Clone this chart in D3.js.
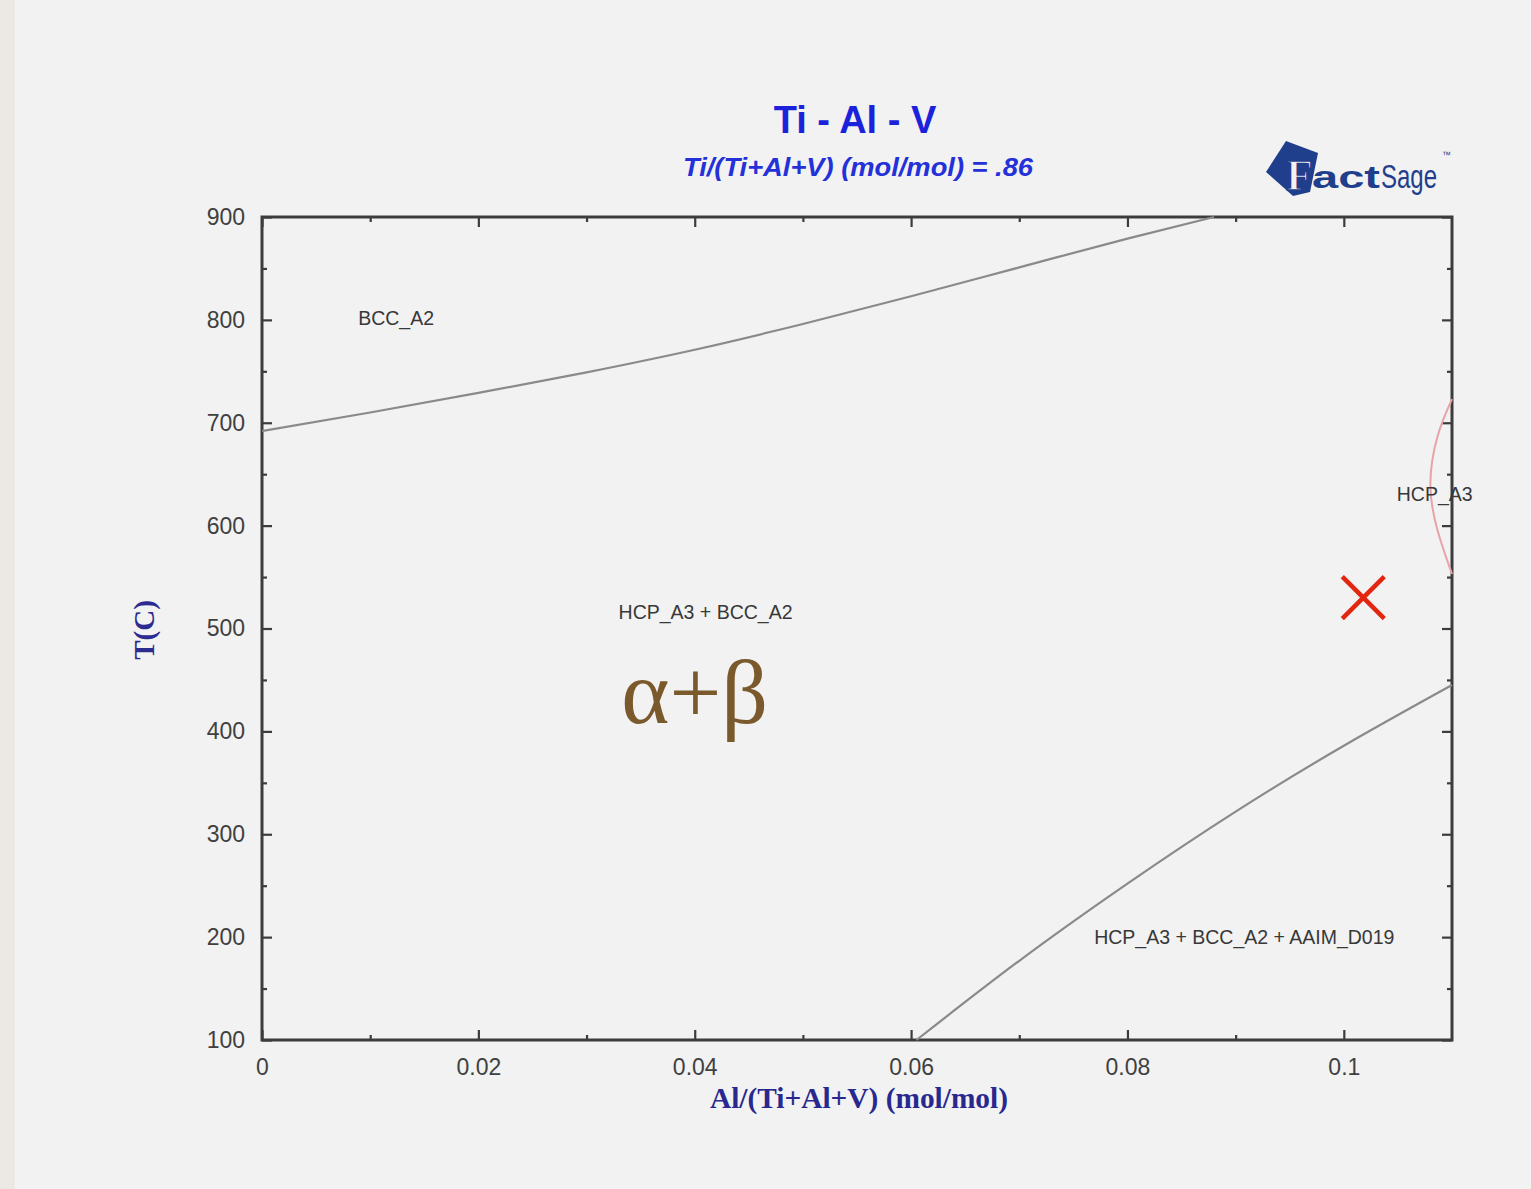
<!DOCTYPE html>
<html>
<head>
<meta charset="utf-8">
<script src="https://cdn.jsdelivr.net/npm/d3@7"></script>
<style>
  html, body { margin: 0; padding: 0; background: #f2f2f2; }
  svg { display: block; }
</style>
</head>
<body>
<svg id="chart" width="1531" height="1189"></svg>
<script>
// ---------- DATA ----------
const xMajorTicks = [0, 0.02, 0.04, 0.06, 0.08, 0.1];
const xTickLabels = ["0", "0.02", "0.04", "0.06", "0.08", "0.1"];
const xMinorTicks = [0.01, 0.03, 0.05, 0.07, 0.09];
const yMajorTicks = [100, 200, 300, 400, 500, 600, 700, 800, 900];
const yMinorTicks = [150, 250, 350, 450, 550, 650, 750, 850];

// BCC_A2 / HCP_A3+BCC_A2 boundary  [Al fraction, T(C)]
const bccBoundaryX = [0, 0.01, 0.02, 0.03, 0.04, 0.05, 0.06, 0.07, 0.08, 0.0880];
const bccBoundaryT = [692, 710, 729, 749, 771, 796, 823, 851, 879, 900];

// HCP_A3+BCC_A2 / +AAIM_D019 boundary
const d019BoundaryX = [0.0605, 0.07, 0.08, 0.09, 0.10, 0.11];
const d019BoundaryT = [100, 177, 252, 322, 386, 445];

// HCP_A3 single-phase boundary (red)
const hcpBoundaryX = [0.1100, 0.1087, 0.1080, 0.1087, 0.1100];
const hcpBoundaryT = [723, 688, 640, 594, 553];

// marked alloy point
const markerX = [0.1018];
const markerT = [530];

// phase region labels
const regionNames = ["BCC_A2", "HCP_A3 + BCC_A2", "HCP_A3", "HCP_A3 + BCC_A2 + AAIM_D019"];
const regionX = [0.0124, 0.0410, 0.1084, 0.0908];
const regionT = [802, 516, 631, 200];

const titleText = "Ti - Al - V";
const subtitleText = "Ti/(Ti+Al+V) (mol/mol)  = .86";
const xLabelText = "Al/(Ti+Al+V) (mol/mol)";
const yLabelText = "T(C)";
const annotationText = "α+β";
const annotationX = 0.0400;
const annotationT = 435;

// ---------- DRAW ----------
const svg = d3.select("#chart");
const W = 1531, H = 1189;
const L = 262, R = 1452, T = 217, B = 1040;

svg.append("rect").attr("width", W).attr("height", H).attr("fill", "#f2f2f2");
svg.append("rect").attr("x", 0).attr("y", 0).attr("width", 14).attr("height", H).attr("fill", "#ece9e5");
svg.append("line").attr("x1", 14).attr("x2", 14).attr("y1", 0).attr("y2", H).attr("stroke", "#e4e4e4").attr("stroke-width", 1);

const x = d3.scaleLinear().domain([0, 0.11]).range([L, R]);
const y = d3.scaleLinear().domain([100, 900]).range([B, T]);

const axisColor = "#3c3c3c";
const tickFont = "'Liberation Sans', Arial, sans-serif";

function styleAxis(g) {
  g.select(".domain").remove();
  g.selectAll(".tick line").attr("stroke", axisColor).attr("stroke-width", 2.2);
  g.selectAll(".tick text").attr("fill", "#404040").attr("font-family", tickFont).attr("font-size", 23);
}

// bottom
svg.append("g").attr("transform", `translate(0,${B})`)
  .call(d3.axisBottom(x).tickValues(xMajorTicks).tickSizeInner(-10).tickSizeOuter(0).tickPadding(19)
    .tickFormat((d, i) => xTickLabels[i]))
  .call(styleAxis);
svg.append("g").attr("transform", `translate(0,${B})`)
  .call(d3.axisBottom(x).tickValues(xMinorTicks).tickSizeInner(-5).tickSizeOuter(0).tickFormat(""))
  .call(styleAxis);
// top
svg.append("g").attr("transform", `translate(0,${T})`)
  .call(d3.axisTop(x).tickValues(xMajorTicks).tickSizeInner(-10).tickSizeOuter(0).tickFormat(""))
  .call(styleAxis);
svg.append("g").attr("transform", `translate(0,${T})`)
  .call(d3.axisTop(x).tickValues(xMinorTicks).tickSizeInner(-5).tickSizeOuter(0).tickFormat(""))
  .call(styleAxis);
// left
svg.append("g").attr("transform", `translate(${L},0)`)
  .call(d3.axisLeft(y).tickValues(yMajorTicks).tickSizeInner(-10).tickSizeOuter(0).tickPadding(17))
  .call(styleAxis);
svg.append("g").attr("transform", `translate(${L},0)`)
  .call(d3.axisLeft(y).tickValues(yMinorTicks).tickSizeInner(-5).tickSizeOuter(0).tickFormat(""))
  .call(styleAxis);
// right
svg.append("g").attr("transform", `translate(${R},0)`)
  .call(d3.axisRight(y).tickValues(yMajorTicks).tickSizeInner(-10).tickSizeOuter(0).tickFormat(""))
  .call(styleAxis);
svg.append("g").attr("transform", `translate(${R},0)`)
  .call(d3.axisRight(y).tickValues(yMinorTicks).tickSizeInner(-5).tickSizeOuter(0).tickFormat(""))
  .call(styleAxis);

// frame
svg.append("rect").attr("x", L).attr("y", T).attr("width", R - L).attr("height", B - T)
  .attr("fill", "none").attr("stroke", axisColor).attr("stroke-width", 3);

// boundary curves
const toPts = (xs, ts) => xs.map((v, i) => [v, ts[i]]);
const lineMono = d3.line().x(d => x(d[0])).y(d => y(d[1])).curve(d3.curveMonotoneX);
const lineSmooth = d3.line().x(d => x(d[0])).y(d => y(d[1])).curve(d3.curveNatural);

svg.append("path").attr("d", lineMono(toPts(bccBoundaryX, bccBoundaryT)))
  .attr("fill", "none").attr("stroke", "#8a8a8a").attr("stroke-width", 2.2);
svg.append("path").attr("d", lineSmooth(toPts(d019BoundaryX, d019BoundaryT)))
  .attr("fill", "none").attr("stroke", "#8a8a8a").attr("stroke-width", 2.2);
svg.append("path").attr("d", lineSmooth(toPts(hcpBoundaryX, hcpBoundaryT)))
  .attr("fill", "none").attr("stroke", "#e7a3a6").attr("stroke-width", 2);

// region labels
svg.append("g").selectAll("text").data(regionNames).join("text")
  .attr("x", (d, i) => x(regionX[i])).attr("y", (d, i) => y(regionT[i]))
  .attr("dy", "0.35em").attr("text-anchor", "middle")
  .attr("font-family", tickFont).attr("font-size", 19.5).attr("fill", "#383838")
  .text(d => d);

// alpha+beta annotation
svg.append("text").attr("x", x(annotationX)).attr("y", y(annotationT))
  .attr("dy", "0.3em").attr("text-anchor", "middle")
  .attr("font-family", "'Liberation Serif', 'Times New Roman', serif").attr("font-size", 92)
  .attr("fill", "#7a5a2c").text(annotationText);

// red X marker
const mg = svg.append("g");
markerX.forEach((mx, i) => {
  const cx = x(mx), cy = y(markerT[i]), s = 21;
  mg.append("line").attr("x1", cx - s).attr("y1", cy - s).attr("x2", cx + s).attr("y2", cy + s)
    .attr("stroke", "#e2260f").attr("stroke-width", 4.5);
  mg.append("line").attr("x1", cx - s).attr("y1", cy + s).attr("x2", cx + s).attr("y2", cy - s)
    .attr("stroke", "#e2260f").attr("stroke-width", 4.5);
});

// titles
svg.append("text").attr("x", 855).attr("y", 133).attr("text-anchor", "middle")
  .attr("font-family", "'Liberation Sans', Arial, sans-serif").attr("font-weight", "bold")
  .attr("font-size", 38).attr("fill", "#1c22dc").text(titleText);
svg.append("text").attr("x", 858).attr("y", 176).attr("text-anchor", "middle")
  .attr("font-family", "'Liberation Sans', Arial, sans-serif").attr("font-weight", "bold")
  .attr("font-style", "italic").attr("font-size", 25).attr("fill", "#2430d8")
  .attr("textLength", 350).attr("lengthAdjust", "spacingAndGlyphs").text(subtitleText);

// axis labels
svg.append("text").attr("x", 859).attr("y", 1108).attr("text-anchor", "middle")
  .attr("font-family", "'Liberation Serif', 'Times New Roman', serif").attr("font-weight", "bold")
  .attr("font-size", 29).attr("fill", "#28288e")
  .attr("textLength", 298).attr("lengthAdjust", "spacingAndGlyphs").text(xLabelText);
svg.append("text").attr("transform", "translate(154,630) rotate(-90)").attr("text-anchor", "middle")
  .attr("font-family", "'Liberation Serif', 'Times New Roman', serif").attr("font-weight", "bold")
  .attr("font-size", 29).attr("fill", "#2b2b90").text(yLabelText);

// FactSage logo
const logo = svg.append("g");
logo.append("path")
  .attr("d", "M1266,172 L1286,141 L1318,153 L1310,192 L1293,196 Z")
  .attr("fill", "#1f3f8c");
logo.append("text").attr("x", 1286).attr("y", 190)
  .attr("font-family", "'Liberation Serif', serif").attr("font-weight", "bold").attr("font-size", 44)
  .attr("fill", "#f2f2f2").attr("stroke", "#1f3f8c").attr("stroke-width", 1.5).text("F");
logo.append("text").attr("x", 1312).attr("y", 188)
  .attr("font-family", "'Liberation Sans', sans-serif").attr("font-weight", "bold").attr("font-size", 32)
  .attr("fill", "#1f3f8c").attr("textLength", 68).attr("lengthAdjust", "spacingAndGlyphs").text("act");
logo.append("text").attr("transform", "translate(1381,188) scale(1,1.4)")
  .attr("font-family", "'Liberation Sans', sans-serif").attr("font-size", 24)
  .attr("fill", "#1f3f8c").text("Sage");
logo.append("text").attr("x", 1442).attr("y", 158)
  .attr("font-family", "'Liberation Sans', sans-serif").attr("font-size", 9)
  .attr("fill", "#1f3f8c").text("™");
</script>
</body>
</html>
